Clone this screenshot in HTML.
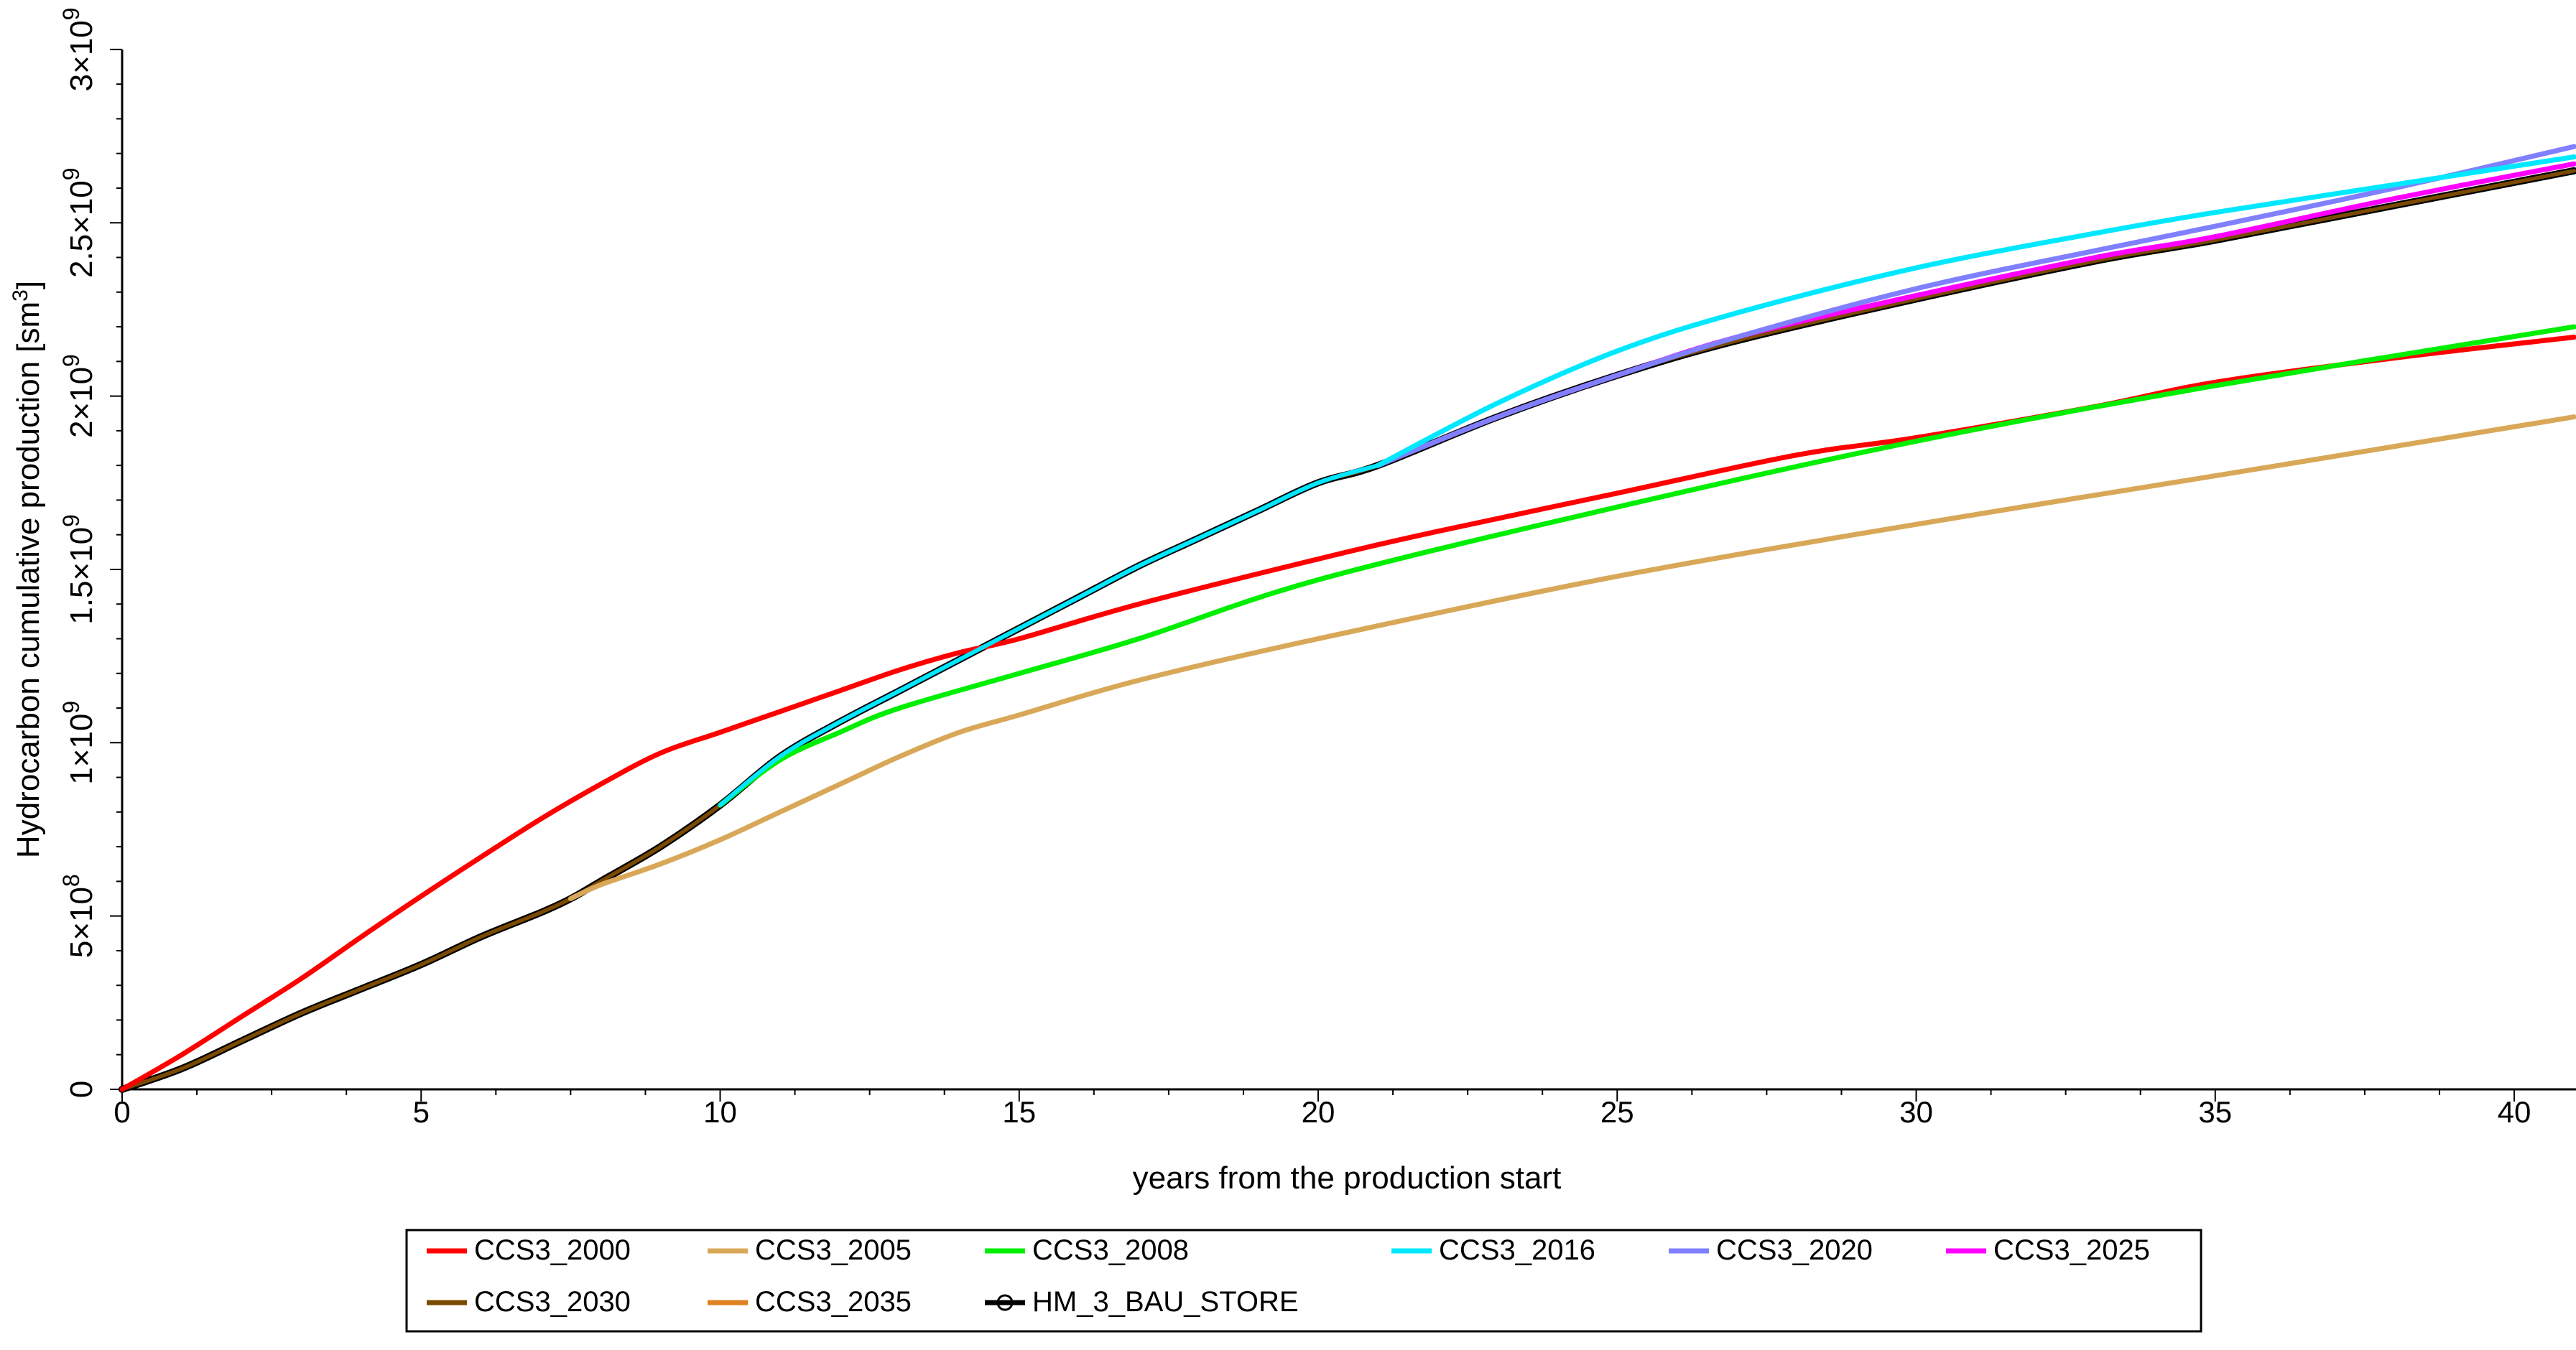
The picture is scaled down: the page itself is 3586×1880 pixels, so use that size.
<!DOCTYPE html>
<html><head><meta charset="utf-8"><style>
html,body{margin:0;padding:0;background:#fff;}
svg{display:block;font-family:"Liberation Sans",sans-serif;}
</style></head><body>
<svg id="chart" width="3586" height="1880" viewBox="0 0 3586 1880" xmlns="http://www.w3.org/2000/svg">
<g id="axes"></g>
<g id="series"></g>
<text x="1875" y="1655" font-size="44" text-anchor="middle">years from the production start</text>
<text transform="translate(54,793) rotate(-90)" font-size="44" text-anchor="middle">Hydrocarbon cumulative production [sm<tspan font-size="30" dy="-16">3</tspan><tspan dy="16">]</tspan></text>
<g id="legend">
<rect x="566" y="1713" width="2498" height="141" fill="#fff" stroke="#000" stroke-width="3"/>
</g>
</svg>
<script>
// Data (values in units of 1e9 sm3)
const baseX = [0,1,2,3,4,5,6,7,7.5,8,9,10,11,12,13,14,15,16,17,18,19,20,21];
const baseY = [0,0.06,0.14,0.22,0.29,0.36,0.44,0.51,0.55,0.60,0.70,0.82,0.96,1.06,1.15,1.24,1.33,1.42,1.51,1.59,1.67,1.75,1.80];
const hmX = [21,23,25,27,30,33,35,38,41];
const hmY = [1.80,1.94,2.06,2.16,2.28,2.39,2.45,2.55,2.65];
const redX = [0,1,2,3,4,5,6,7,8,9,10,11,12,13,14,15,17,20,22,25,28,30,33,35,38,41];
const redY = [0,0.10,0.21,0.32,0.44,0.557,0.67,0.78,0.88,0.97,1.03,1.09,1.15,1.21,1.26,1.30,1.40,1.53,1.61,1.72,1.83,1.88,1.97,2.04,2.11,2.17];
const tanX = [7.5,8,9,10,11,12,13,14,15,17,20,25,30,35,41];
const tanY = [0.55,0.59,0.65,0.72,0.80,0.88,0.96,1.03,1.08,1.18,1.30,1.48,1.63,1.77,1.94];
const greenX = [10,11,12,13,15,17,20,25,30,35,41];
const greenY = [0.82,0.95,1.03,1.10,1.20,1.30,1.47,1.68,1.87,2.03,2.20];
const cyanX = [21,23,25,27,30,33,35,38,41];
const cyanY = [1.80,1.98,2.13,2.24,2.37,2.47,2.53,2.61,2.69];
const purpleX = [21,23,25,27,30,33,35,38,41];
const purpleY = [1.80,1.94,2.06,2.17,2.31,2.42,2.49,2.60,2.72];
const magentaX = [21,23,25,27,30,33,35,38,41];
const magentaY = [1.80,1.94,2.06,2.17,2.29,2.40,2.46,2.57,2.67];
const xTicks = [0,5,10,15,20,25,30,35,40];
const yTicks = [0,0.5,1,1.5,2,2.5,3];
const yTickMant = ["0","5","1","1.5","2","2.5","3"];
const yTickExp = ["","8","9","9","9","9","9"];
const legendNames = ["CCS3_2000","CCS3_2005","CCS3_2008","CCS3_2016","CCS3_2020","CCS3_2025","CCS3_2030","CCS3_2035","HM_3_BAU_STORE"];

const NS="http://www.w3.org/2000/svg";
const X0=170, PXY=83.25, Y0=1517, PYV=482.7, XMAX=41;
const sx=v=>X0+v*PXY, sy=v=>Y0-v*PYV;
function mk(tag,attrs,parent){const e=document.createElementNS(NS,tag);for(const k in attrs)e.setAttribute(k,attrs[k]);parent.appendChild(e);return e;}
const axes=document.getElementById('axes'), ser=document.getElementById('series'), leg=document.getElementById('legend');

let a=mk('line',{x1:X0,y1:sy(3),x2:X0,y2:Y0,stroke:'#000','stroke-width':3},axes);

a=mk('line',{x1:X0,y1:Y0,x2:3586,y2:Y0,stroke:'#000','stroke-width':3},axes);

for(let v=0;v<=XMAX+0.001;v+=1.25){const maj=Math.abs(v/5-Math.round(v/5))<1e-6;
 const t=mk('line',{x1:sx(v),y1:Y0,x2:sx(v),y2:Y0+(maj?17:8),stroke:'#000','stroke-width':2},axes);
 }
for(let i=0;i<=30;i++){const v=i/10;const maj=i%5===0;
 const t=mk('line',{x1:X0-(maj?17:8),y1:sy(v),x2:X0,y2:sy(v),stroke:'#000','stroke-width':2},axes);
 }
xTicks.forEach(v=>{const t=mk('text',{x:sx(v),y:1563,'font-size':42,'text-anchor':'middle'},axes);t.textContent=v;
 });
yTicks.forEach((v,i)=>{const t=mk('text',{transform:`translate(128,${sy(v)}) rotate(-90)`,'font-size':44,'text-anchor':'middle'},axes);
 
 if(yTickExp[i]){t.appendChild(document.createTextNode(yTickMant[i]+'\u00d710'));const s=mk('tspan',{'font-size':32,dy:-18},t);s.textContent=yTickExp[i];}
 else t.textContent=yTickMant[i];});

function path(xs,ys){const P=xs.map((x,i)=>[sx(x),sy(ys[i])]);let d='M'+P[0][0].toFixed(1)+' '+P[0][1].toFixed(1);
 for(let i=0;i<P.length-1;i++){const p0=P[i-1]||P[i],p1=P[i],p2=P[i+1],p3=P[i+2]||P[i+1];
  const c1=[p1[0]+(p2[0]-p0[0])/6,p1[1]+(p2[1]-p0[1])/6],c2=[p2[0]-(p3[0]-p1[0])/6,p2[1]-(p3[1]-p1[1])/6];
  d+=` C${c1[0].toFixed(1)} ${c1[1].toFixed(1)} ${c2[0].toFixed(1)} ${c2[1].toFixed(1)} ${p2[0].toFixed(1)} ${p2[1].toFixed(1)}`;}
 return d;}
function line(xs,ys,color,w,name){const p=mk('path',{d:path(xs,ys),fill:'none',stroke:color,'stroke-width':w,'stroke-linejoin':'round','stroke-linecap':'round'},ser);
 return p;}
const bx=baseX.concat(hmX.slice(1)), by=baseY.concat(hmY.slice(1));
line(bx,by,'#000',10,'series-hm-3-bau-store');
line(bx,by,'#e08020',5,'series-ccs3-2035');
line(bx,by,'#7a4a00',5,'series-ccs3-2030');
line(redX,redY,'#ff0000',7,'series-ccs3-2000');
line(tanX,tanY,'#d8a858',7,'series-ccs3-2005');
line(greenX,greenY,'#00ee00',7,'series-ccs3-2008');
line(magentaX,magentaY,'#ff00ff',7,'series-ccs3-2025');
line(purpleX,purpleY,'#8080ff',7,'series-ccs3-2020');
line(baseX.slice(11),baseY.slice(11),'#00e8ff',6,'series-ccs3-2016-early');
line(cyanX,cyanY,'#00e8ff',7,'series-ccs3-2016');

const legColors=['#ff0000','#d8a858','#00ee00','#00e8ff','#8080ff','#ff00ff','#7a4a00','#e08020','#000'];
const legX=[594,985,1371,1937,2323,2709,594,985,1371];
const legY=[1754,1754,1754,1754,1754,1754,1826,1826,1826];
legendNames.forEach((n,i)=>{const g=mk('g',{},leg);
 
 mk('line',{x1:legX[i],y1:legY[i]-12,x2:legX[i]+56,y2:legY[i]-12,stroke:legColors[i],'stroke-width':7},g);
 if(i===8)mk('circle',{cx:legX[i]+28,cy:legY[i]-12,r:10,fill:'none',stroke:'#000','stroke-width':3},g);
 const t=mk('text',{x:legX[i]+66,y:legY[i],'font-size':40},g);t.textContent=n;});
</script>
</body></html>
